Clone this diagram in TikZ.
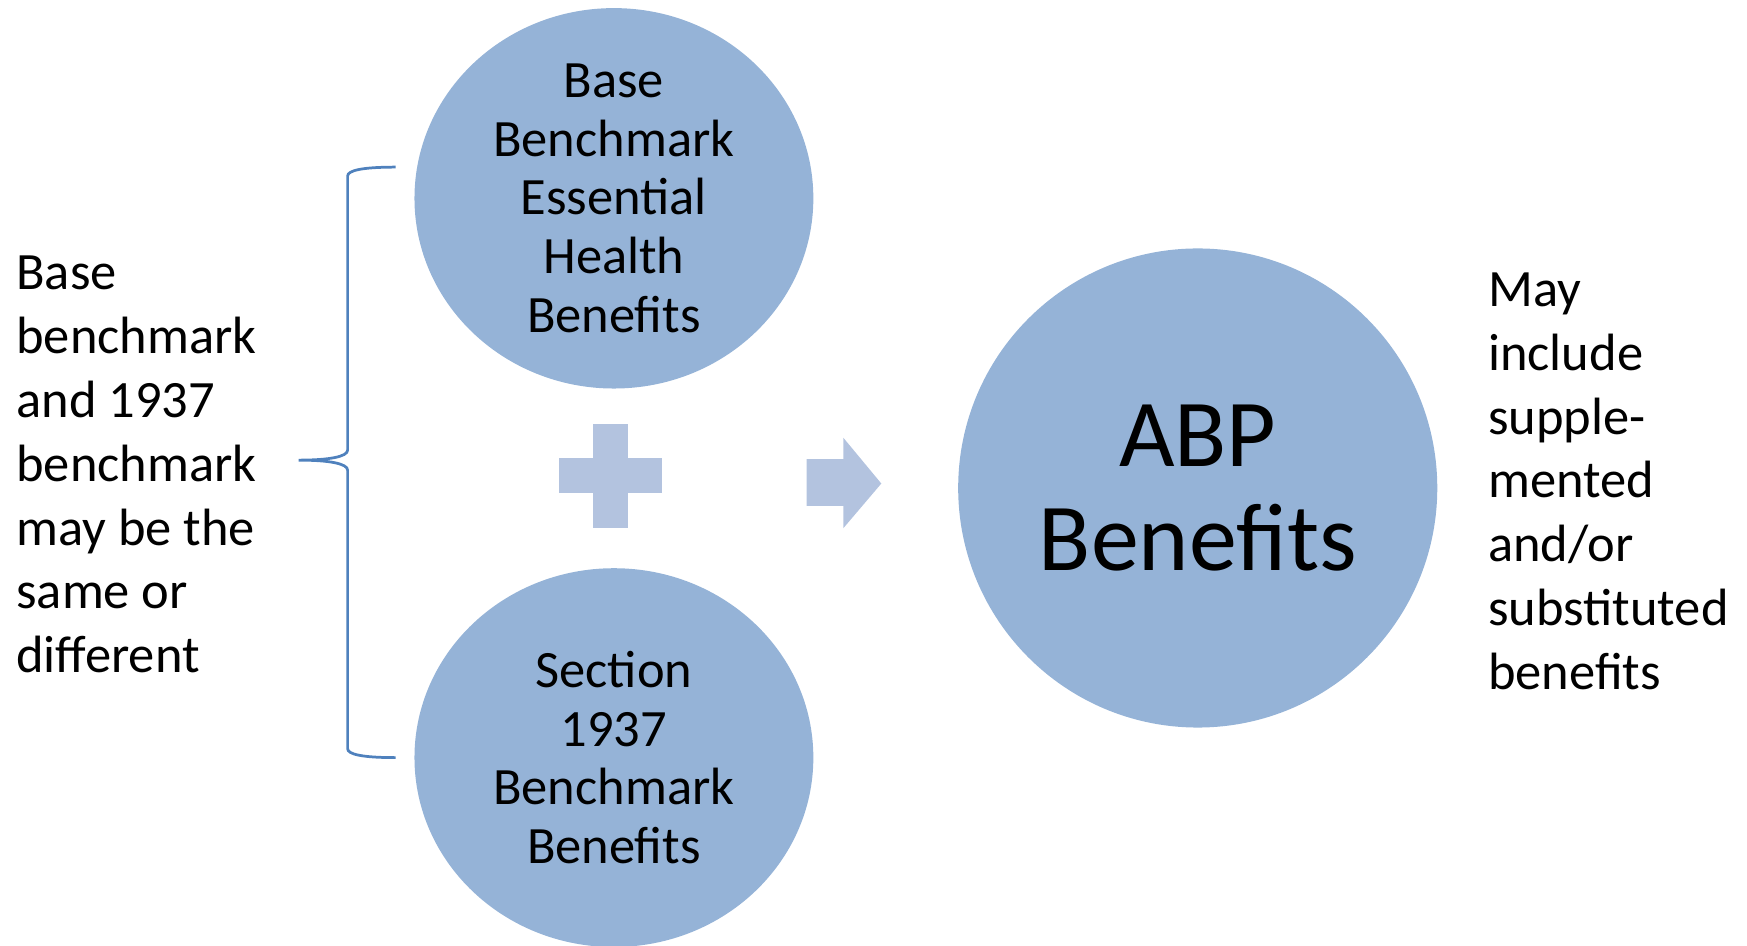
\documentclass[tikz,border=0pt]{standalone}
\usepackage{fontspec}
\setmainfont{Carlito}
\usepackage{tikz}
\usetikzlibrary{shapes.geometric, positioning}
\definecolor{bubbleblue}{HTML}{95B3D7}
\definecolor{signblue}{HTML}{B3C3DF}
\definecolor{braceblue}{HTML}{4F81BD}

\begin{document}
\begin{tikzpicture}[
  bubble/.style={ellipse, fill=bubbleblue, minimum width=3.58cm, minimum height=3.40cm, inner sep=0pt, align=center, font=\fontsize{13.4}{15}\selectfont},
  bigbubble/.style={circle, fill=bubbleblue, minimum size=4.3cm, inner sep=0pt, align=center, font=\fontsize{24.5}{26.6}\selectfont},
  note/.style={anchor=west, inner sep=0pt, align=left, font=\fontsize{13.4}{16.3}\selectfont},
  sign/.style={fill=signblue}
]
  \useasboundingbox (0,-0.03) rectangle (15.68,8.46);

  \node[bubble] (base) at (5.51,6.68) {Base\\Benchmark\\Essential\\Health\\Benefits};
  \node[bubble] (sect) at (5.51,1.66) {Section\\1937\\Benchmark\\Benefits};
  \node[bigbubble] (abp) at (10.75,4.08) {ABP\\Benefits};

  \node[note] (same) at (0.14,4.29) {Base\\benchmark\\and 1937\\benchmark\\may be the\\same or\\different};
  \node[note] (incl) at (13.35,4.14) {May\\include\\supple-\\mented\\and/or\\substituted\\benefits};

  % plus sign and arrow
  \coordinate (plus) at (5.48,4.19);
  \fill[sign] ([shift={(-0.465,-0.155)}]plus) rectangle ([shift={(0.465,0.155)}]plus);
  \fill[sign] ([shift={(-0.155,-0.465)}]plus) rectangle ([shift={(0.155,0.465)}]plus);
  \fill[sign] (7.24,4.34) -- (7.57,4.34) -- (7.57,4.53) -- (7.91,4.12)
    -- (7.57,3.72) -- (7.57,3.92) -- (7.24,3.92) -- cycle;

  % brace
  \draw[braceblue, line width=0.7pt] (3.55,6.96) .. controls (3.25,6.96) and (3.12,6.93) .. (3.12,6.88)
    -- (3.12,4.42) .. controls (3.12,4.36) and (2.95,4.33) .. (2.68,4.33)
    .. controls (2.95,4.33) and (3.12,4.30) .. (3.12,4.24)
    -- (3.12,1.74) .. controls (3.12,1.69) and (3.25,1.66) .. (3.55,1.66);
\end{tikzpicture}
\end{document}
